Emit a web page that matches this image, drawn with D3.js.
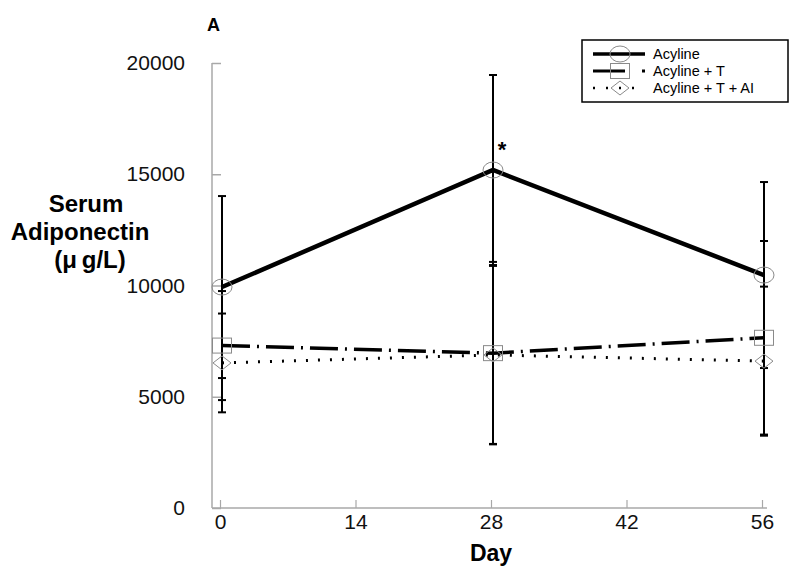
<!DOCTYPE html>
<html><head><meta charset="utf-8">
<script src="https://cdn.jsdelivr.net/npm/d3@7"></script>
<style>body{margin:0;background:#fff}svg{display:block}text{font-family:"Liberation Sans",Arial,sans-serif}</style>
</head><body>
<script>
const days = [0, 28, 56];
const xTicks = [0, 14, 28, 42, 56];
const yTicks = [0, 5000, 10000, 15000, 20000];
const seriesNames = ["Acyline", "Acyline + T", "Acyline + T + AI"];
const acylineMean = [9930, 15190, 10470];
const acylineErr = [4090, 4270, 4180];
const tMean = [7300, 6960, 7650];
const tErr = [2450, 4100, 4350];
const aiMean = [6520, 6880, 6600];
const aiErr = [2220, 4000, 3350];

const W = 800, H = 575;
const svg = d3.select("body").append("svg").attr("width", W).attr("height", H);
const x = d3.scaleLinear().domain([0, 56]).range([220, 762]);
const y = d3.scaleLinear().domain([0, 20000]).range([508, 63]);
const axisCol = "#a8a8a8";

svg.append("line").attr("x1", 212).attr("x2", 212).attr("y1", y(20000)).attr("y2", y(0)).attr("stroke", axisCol).attr("stroke-width", 1.5);
svg.append("line").attr("x1", 212).attr("x2", 767).attr("y1", y(0)).attr("y2", y(0)).attr("stroke", axisCol).attr("stroke-width", 1.5);

const yAx = svg.append("g").attr("transform", "translate(212,0)")
  .call(d3.axisLeft(y).tickValues(yTicks).tickSizeInner(-9).tickSizeOuter(0).tickPadding(27).tickFormat(d3.format("d")));
yAx.select(".domain").remove();
yAx.selectAll("line").attr("stroke", axisCol).attr("stroke-width", 1.5);
yAx.selectAll("text").attr("font-size", 21).attr("fill", "#111");

const xAx = svg.append("g").attr("transform", `translate(0,${y(0)})`)
  .call(d3.axisBottom(x).tickValues(xTicks).tickSizeInner(-8).tickSizeOuter(0).tickPadding(6));
xAx.select(".domain").remove();
xAx.selectAll("line").attr("stroke", axisCol).attr("stroke-width", 1.2);
xAx.selectAll("text").attr("font-size", 21).attr("fill", "#111");

svg.append("text").attr("x", 491).attr("y", 561).attr("text-anchor", "middle").attr("font-size", 23).attr("font-weight", "bold").text("Day");
const yt = svg.append("text").attr("text-anchor", "middle").attr("font-size", 24).attr("font-weight", "bold");
yt.append("tspan").attr("x", 86).attr("y", 212).text("Serum");
yt.append("tspan").attr("x", 80).attr("y", 240).text("Adiponectin");
yt.append("tspan").attr("x", 90).attr("y", 268).text("(\u03BC\u2009g/L)");
svg.append("text").attr("x", 207).attr("y", 31).attr("font-size", 18).attr("font-weight", "bold").text("A");
svg.append("text").attr("x", 502).attr("y", 157).attr("text-anchor", "middle").attr("font-size", 22).attr("font-weight", "bold").text("*");

const series = [
  {name: seriesNames[0], mean: acylineMean, err: acylineErr, width: 4.5, dash: null, marker: "circle"},
  {name: seriesNames[1], mean: tMean, err: tErr, width: 3.5, dash: "28,7,2,7", marker: "square"},
  {name: seriesNames[2], mean: aiMean, err: aiErr, width: 3, dash: "2,10", marker: "diamond"}
];

series.forEach(s => {
  const g = svg.append("g");
  days.forEach((d, i) => {
    const cx = x(d) + 2;
    g.append("line").attr("x1", cx).attr("x2", cx).attr("y1", y(s.mean[i] + s.err[i])).attr("y2", y(s.mean[i] - s.err[i])).attr("stroke", "#000").attr("stroke-width", 2);
    [s.mean[i] + s.err[i], s.mean[i] - s.err[i]].forEach(v => {
      g.append("line").attr("x1", cx - 4).attr("x2", cx + 4).attr("y1", y(v)).attr("y2", y(v)).attr("stroke", "#000").attr("stroke-width", 2);
    });
  });
});

const line = d3.line().x((d, i) => x(days[i]) + 2).y(d => y(d));
series.forEach(s => {
  const p = svg.append("path").attr("d", line(s.mean)).attr("fill", "none").attr("stroke", "#000").attr("stroke-width", s.width);
  if (s.dash) p.attr("stroke-dasharray", s.dash);
});

function drawMarker(g, type, cx, cy) {
  let el;
  if (type === "circle") el = g.append("ellipse").attr("cx", cx).attr("cy", cy).attr("rx", 10).attr("ry", 8);
  else if (type === "square") el = g.append("rect").attr("x", cx - 9.5).attr("y", cy - 7.5).attr("width", 19).attr("height", 15);
  else el = g.append("path").attr("d", `M${cx - 9},${cy}L${cx},${cy - 7}L${cx + 9},${cy}L${cx},${cy + 7}Z`);
  el.attr("fill", "none").attr("stroke", "#8a8a8a").attr("stroke-width", 1);
}
series.forEach(s => {
  const g = svg.append("g");
  days.forEach((d, i) => drawMarker(g, s.marker, x(d) + 2, y(s.mean[i])));
});

const lg = svg.append("g");
lg.append("rect").attr("x", 582).attr("y", 40).attr("width", 206).attr("height", 62).attr("fill", "#fff").attr("stroke", "#000").attr("stroke-width", 1.5);
series.forEach((s, i) => {
  const yy = 54 + i * 17;
  const l = lg.append("line").attr("x1", 593).attr("x2", 645).attr("y1", yy).attr("y2", yy).attr("stroke", "#000").attr("stroke-width", s.width * 0.8);
  if (s.dash) l.attr("stroke-dasharray", s.dash === "2,10" ? "2,11" : "32,17,3,10");
  drawMarker(lg, s.marker, 620, yy);
  lg.append("text").attr("x", 653).attr("y", yy + 5).attr("font-size", 14.5).text(s.name);
});
</script>
</body></html>
